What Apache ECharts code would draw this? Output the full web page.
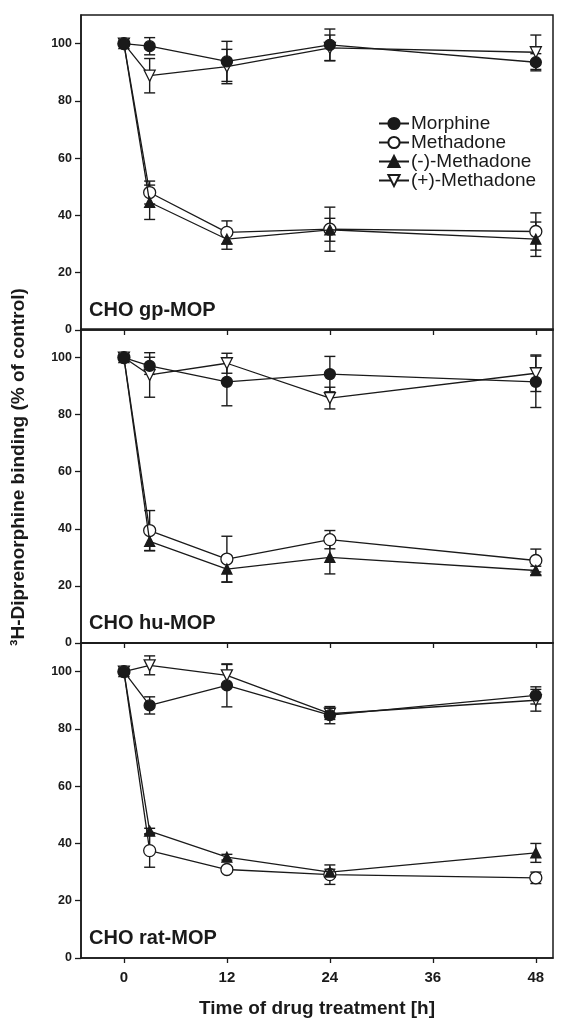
<!DOCTYPE html>
<html>
<head>
<meta charset="utf-8">
<script src="https://cdn.jsdelivr.net/npm/echarts@6/dist/echarts.min.js"></script>
<style>
html,body{margin:0;padding:0;background:#fff;}
#chart{width:581px;height:1036px;}
</style>
</head>
<body>
<div id="chart"></div>
<script>
// ---- data ----
const times = [0, 3, 12, 24, 48];
const xTicks = [0, 12, 24, 36, 48];
const yTicks = [0, 20, 40, 60, 80, 100];
const seriesNames = ['Morphine', 'Methadone', '(-)-Methadone', '(+)-Methadone'];
const panelLabels = ['CHO gp-MOP', 'CHO hu-MOP', 'CHO rat-MOP'];

// CHO gp-MOP
const gpMorphine = [100, 99.1, 93.8, 99.6, 93.5];
const gpMorphineErr = [0, 3, 7, 5.5, 3];
const gpMethadone = [100, 48, 34.1, 35.2, 34.4];
const gpMethadoneErr = [0, 4, 4, 7.7, 6.5];
const gpMinusMethadone = [100, 44.6, 31.7, 35, 31.7];
const gpMinusMethadoneErr = [0, 6, 3.5, 4, 6];
const gpPlusMethadone = [100, 88.8, 92, 98.5, 97];
const gpPlusMethadoneErr = [0, 6, 6, 4.5, 6];

// CHO hu-MOP
const huMorphine = [100, 97.1, 91.5, 94.2, 91.5];
const huMorphineErr = [0, 3, 8.4, 6.2, 9];
const huMethadone = [100, 39.4, 29.4, 36.2, 28.9];
const huMethadoneErr = [0, 7, 8, 3.2, 4];
const huMinusMethadone = [100, 35.6, 25.9, 30, 25.4];
const huMinusMethadoneErr = [0, 3.3, 4.6, 5.8, 1.5];
const huPlusMethadone = [100, 93.9, 98, 85.8, 94.5];
const huPlusMethadoneErr = [0, 7.8, 3.5, 3.8, 6.4];

// CHO rat-MOP
const ratMorphine = [100, 88.2, 95.2, 84.8, 91.7];
const ratMorphineErr = [0, 3, 7.5, 3, 3];
const ratMethadone = [100, 37.5, 30.9, 29.1, 28];
const ratMethadoneErr = [0, 5.8, 1, 3.4, 2];
const ratMinusMethadone = [100, 44.3, 35.2, 30, 36.7];
const ratMinusMethadoneErr = [0, 1, 1, 1, 3.3];
const ratPlusMethadone = [100, 102.2, 98.7, 85.3, 90];
const ratPlusMethadoneErr = [0, 3.3, 3.8, 2, 3.8];

const panels = [
  [[gpMorphine, gpMorphineErr], [gpMethadone, gpMethadoneErr], [gpMinusMethadone, gpMinusMethadoneErr], [gpPlusMethadone, gpPlusMethadoneErr]],
  [[huMorphine, huMorphineErr], [huMethadone, huMethadoneErr], [huMinusMethadone, huMinusMethadoneErr], [huPlusMethadone, huPlusMethadoneErr]],
  [[ratMorphine, ratMorphineErr], [ratMethadone, ratMethadoneErr], [ratMinusMethadone, ratMinusMethadoneErr], [ratPlusMethadone, ratPlusMethadoneErr]]
];

// ---- styles ----
const FONT = "'Liberation Sans', Arial, sans-serif";
const INK = '#1a1a1a';
const markerStyles = [
  {symbol: 'circle', size: 11, rotate: 0, fill: INK, z: 5},
  {symbol: 'circle', size: 12, rotate: 0, fill: '#fff', z: 3},
  {symbol: 'triangle', size: 10, rotate: 0, fill: INK, z: 4},
  {symbol: 'triangle', size: 11, rotate: 180, fill: '#fff', z: 3}
];

const gridTops = [15, 329, 643];
const gridHeights = [315, 314, 315];

const grids = [], xAxes = [], yAxes = [], series = [];
panels.forEach((panel, p) => {
  grids.push({left: 81, right: 28, top: gridTops[p], height: gridHeights[p],
    show: true, borderColor: INK, borderWidth: 1.5, backgroundColor: 'transparent'});
  xAxes.push({
    type: 'value', gridIndex: p, min: -5, max: 50,
    axisLine: {show: true, onZero: false, lineStyle: {color: INK, width: 1.5}},
    axisTick: {show: true, length: 5, customValues: xTicks, lineStyle: {color: INK, width: 1.3}},
    axisLabel: {show: p === 2, customValues: xTicks, margin: 12, color: INK,
      fontFamily: FONT, fontWeight: 'bold', fontSize: 15},
    splitLine: {show: false},
    name: p === 2 ? 'Time of drug treatment [h]' : '',
    nameLocation: 'middle', nameGap: 41,
    nameTextStyle: {color: INK, fontFamily: FONT, fontWeight: 'bold', fontSize: 19}
  });
  yAxes.push({
    type: 'value', gridIndex: p, min: 0, max: 110,
    axisLine: {show: true, onZero: false, lineStyle: {color: INK, width: 1.5}},
    axisTick: {show: true, length: 6, customValues: yTicks, lineStyle: {color: INK, width: 1.3}},
    axisLabel: {customValues: yTicks, margin: 9, color: INK,
      fontFamily: FONT, fontWeight: 'bold', fontSize: 12.5},
    splitLine: {show: false}
  });
  panel.forEach((pair, s) => {
    const vals = pair[0], errs = pair[1];
    const m = markerStyles[s];
    series.push({
      type: 'custom', name: seriesNames[s] + ' SEM', xAxisIndex: p, yAxisIndex: p, z: 1,
      silent: true,
      data: times.map((t, i) => [t, vals[i] - errs[i], vals[i] + errs[i]]),
      renderItem: function (params, api) {
        const lo = api.coord([api.value(0), api.value(1)]);
        const hi = api.coord([api.value(0), api.value(2)]);
        const hw = 5.5;
        const st = {stroke: INK, lineWidth: 1.4};
        return {type: 'group', children: [
          {type: 'line', shape: {x1: lo[0], y1: lo[1], x2: hi[0], y2: hi[1]}, style: st},
          {type: 'line', shape: {x1: lo[0] - hw, y1: lo[1], x2: lo[0] + hw, y2: lo[1]}, style: st},
          {type: 'line', shape: {x1: hi[0] - hw, y1: hi[1], x2: hi[0] + hw, y2: hi[1]}, style: st}
        ]};
      }
    });
    series.push({
      type: 'line', name: seriesNames[s], xAxisIndex: p, yAxisIndex: p, z: m.z,
      data: times.map((t, i) => [t, vals[i]]),
      symbol: m.symbol, symbolSize: m.size, symbolRotate: m.rotate,
      showAllSymbol: true,
      lineStyle: {color: INK, width: 1.3},
      itemStyle: {color: m.fill, borderColor: INK, borderWidth: 1.3, opacity: 1},
      emphasis: {disabled: true},
      animation: false
    });
  });
});

const chart = echarts.init(document.getElementById('chart'), null, {renderer: 'canvas'});
chart.setOption({
  animation: false,
  backgroundColor: '#fff',
  grid: grids,
  xAxis: xAxes,
  yAxis: yAxes,
  legend: {
    data: seriesNames,
    orient: 'vertical', left: 373, top: 109,
    itemWidth: 30, itemHeight: 14, itemGap: 0,
    selectedMode: false,
    textStyle: {color: INK, fontFamily: FONT, fontSize: 19, lineHeight: 19, padding: [0, 0, 0, -3]}
  },
  graphic: [
    {type: 'text', x: 19, y: 467, rotation: Math.PI / 2,
      style: {text: '³H-Diprenorphine binding (% of control)', fill: INK, font: 'bold 19px ' + FONT,
        textAlign: 'center', textVerticalAlign: 'middle'}}
  ].concat(panelLabels.map((lab, p) => ({
      type: 'text', left: 89, top: gridTops[p] + gridHeights[p] - 30,
      style: {text: lab, fill: INK, font: 'bold 20px ' + FONT}
  }))),
  series: series
});
</script>
</body>
</html>
